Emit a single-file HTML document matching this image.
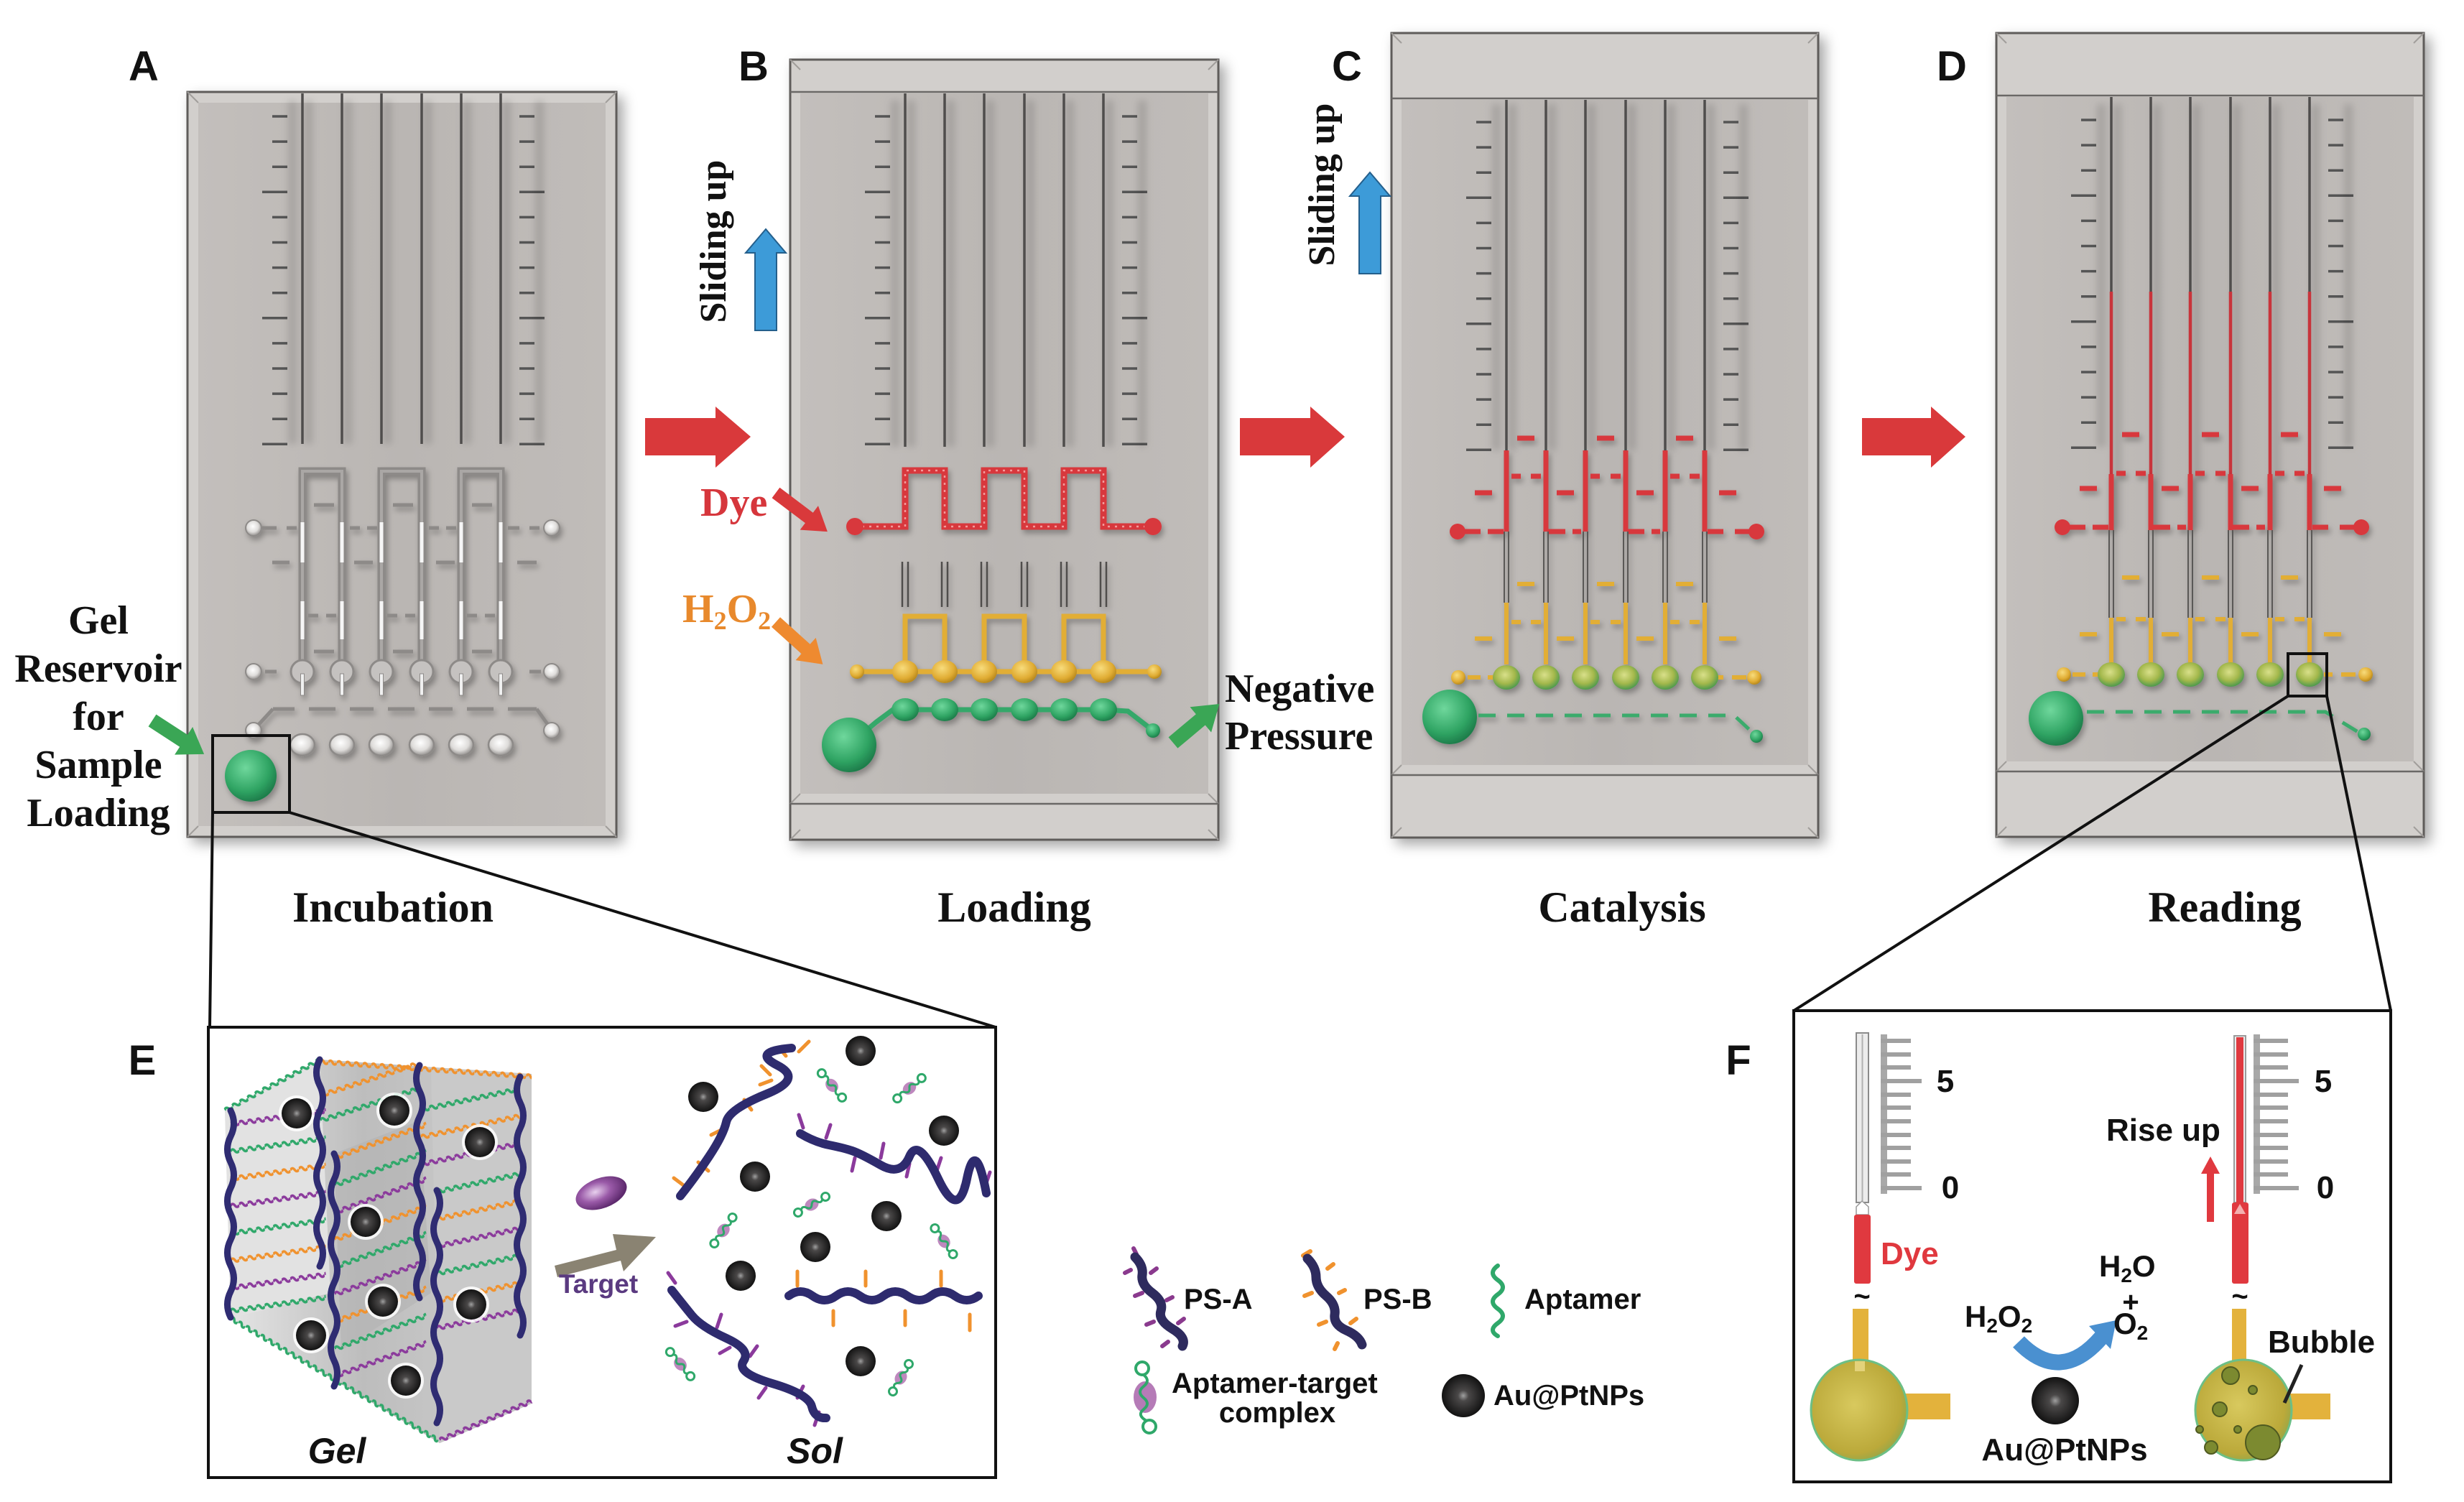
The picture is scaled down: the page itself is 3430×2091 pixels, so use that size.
<!DOCTYPE html>
<html><head><meta charset="utf-8"><style>html,body{margin:0;padding:0;background:#fff;}svg{display:block}</style></head><body>
<svg width="3430" height="2091" viewBox="0 0 3430 2091" xmlns="http://www.w3.org/2000/svg" xmlns:xlink="http://www.w3.org/1999/xlink">
<defs>
<filter id="sh" x="-10%" y="-10%" width="130%" height="130%"><feDropShadow dx="8" dy="8" stdDeviation="9" flood-color="#000" flood-opacity="0.35"/></filter>
<filter id="sh2" x="-10%" y="-10%" width="130%" height="130%"><feDropShadow dx="3" dy="5" stdDeviation="4" flood-color="#000" flood-opacity="0.3"/></filter>
<filter id="bl" x="-20%" y="-5%" width="140%" height="110%"><feGaussianBlur stdDeviation="5"/></filter>
<linearGradient id="chipG" x1="0" y1="0" x2="1" y2="0"><stop offset="0" stop-color="#c3bfbc"/><stop offset="0.5" stop-color="#bab6b3"/><stop offset="1" stop-color="#c0bcb9"/></linearGradient>
<radialGradient id="np" cx="0.5" cy="0.5" r="0.5"><stop offset="0" stop-color="#a0a0a0"/><stop offset="0.25" stop-color="#4a4848"/><stop offset="1" stop-color="#121212"/></radialGradient>
<radialGradient id="grn" cx="0.4" cy="0.35" r="0.65"><stop offset="0" stop-color="#6fd79c"/><stop offset="0.7" stop-color="#2fa463"/><stop offset="1" stop-color="#1f7f4c"/></radialGradient>
<radialGradient id="yel" cx="0.4" cy="0.35" r="0.65"><stop offset="0" stop-color="#f8dc7c"/><stop offset="0.7" stop-color="#e0ac33"/><stop offset="1" stop-color="#b98a1f"/></radialGradient>
<radialGradient id="yg" cx="0.45" cy="0.4" r="0.6"><stop offset="0" stop-color="#d9e08a"/><stop offset="0.6" stop-color="#a4b84c"/><stop offset="1" stop-color="#4f9a4e"/></radialGradient>
<radialGradient id="wht" cx="0.45" cy="0.4" r="0.6"><stop offset="0" stop-color="#ffffff"/><stop offset="0.6" stop-color="#dedcda"/><stop offset="1" stop-color="#8f8c8a"/></radialGradient>
<radialGradient id="olive" cx="0.45" cy="0.45" r="0.6"><stop offset="0" stop-color="#d8c95e"/><stop offset="0.8" stop-color="#bba93a"/><stop offset="1" stop-color="#8fa64a"/></radialGradient>
<radialGradient id="tg" cx="0.4" cy="0.4" r="0.6"><stop offset="0" stop-color="#e8d0ee"/><stop offset="0.5" stop-color="#9a5aa8"/><stop offset="1" stop-color="#5e2a6e"/></radialGradient>
<linearGradient id="cube" x1="0" y1="0" x2="1" y2="0"><stop offset="0" stop-color="#e6e6e6"/><stop offset="0.45" stop-color="#bdbdbd"/><stop offset="1" stop-color="#cfcfcf"/></linearGradient>
<pattern id="wvO" width="12" height="12" patternUnits="userSpaceOnUse"><path d="M0 6 Q3 1 6 6 T12 6" fill="none" stroke="#f0922e" stroke-width="3.6"/></pattern>
<pattern id="wvG" width="12" height="12" patternUnits="userSpaceOnUse"><path d="M0 6 Q3 1 6 6 T12 6" fill="none" stroke="#2fa86a" stroke-width="3.6"/></pattern>
<pattern id="wvP" width="12" height="12" patternUnits="userSpaceOnUse"><path d="M0 6 Q3 1 6 6 T12 6" fill="none" stroke="#8b3a9c" stroke-width="3.6"/></pattern>
<g id="rul" stroke="#555" stroke-width="3.5">
<path d="M118 0H139M118 35.1H139M118 70.2H139M104 105.3H139M118 140.4H139M118 175.5H139M118 210.6H139M118 245.7H139M104 280.8H139M118 315.9H139M118 351H139M118 386.1H139M118 421.2H139M104 456.3H139"/>
<path d="M462 0H483M462 35.1H483M462 70.2H483M462 105.3H497M462 140.4H483M462 175.5H483M462 210.6H483M462 245.7H483M462 280.8H497M462 315.9H483M462 351H483M462 386.1H483M462 421.2H483M462 456.3H497"/>
</g>
<g id="gnp"><circle r="25" fill="#fff" opacity="0.85"/><circle r="21" fill="url(#np)"/></g>
<g id="cx"><ellipse rx="10" ry="8" fill="#a860a8" opacity="0.75"/><path d="M-17 0 q4 -6 8.5 0 t8.5 0 t8.5 0 t8.5 0" stroke="#2fa86a" stroke-width="3" fill="none"/><circle cx="-22" r="5.5" stroke="#2fa86a" stroke-width="3" fill="none"/><circle cx="22" r="5.5" stroke="#2fa86a" stroke-width="3" fill="none"/></g>
</defs>

<!-- ===== Panel A ===== -->
<rect x="261" y="128" width="597" height="1037" fill="#d2cfcc" stroke="#5e5c5a" stroke-width="3" filter="url(#sh)"/>
<rect x="276" y="143" width="567" height="1007" fill="url(#chipG)"/>
<path d="M261 128L276 143M858 128L843 143M261 1165L276 1150M858 1165L843 1150" stroke="#a19e9b" stroke-width="2"/>
<use href="#rul" xlink:href="#rul" transform="translate(261,162)"/>
<g transform="translate(261,0)">
<path d="M168 140V618M223 140V618M278 140V618M334 140V618M389 140V618M444 140V618M146 140V618M490 140V618" stroke="#000" stroke-opacity="0.13" stroke-width="12" filter="url(#bl)"/>
<path d="M160 130V618M215 130V618M270 130V618M326 130V618M381 130V618M436 130V618" stroke="#4f4d4c" stroke-width="3.5"/>
<g filter="url(#sh2)">
<path d="M160 930V656H215V930M270 930V656H326V930M381 930V656H436V930" stroke="#8d8a88" stroke-width="11" fill="none"/>
<path d="M160 930V656H215V930M270 930V656H326V930M381 930V656H436V930" stroke="#aaa7a5" stroke-width="4" fill="none"/>
<g fill="#f6f6f6"><rect x="157.5" y="727" width="5" height="56"/><rect x="212.5" y="727" width="5" height="56"/><rect x="267.5" y="727" width="5" height="56"/><rect x="323.5" y="727" width="5" height="56"/><rect x="378.5" y="727" width="5" height="56"/><rect x="433.5" y="727" width="5" height="56"/>
<rect x="157.5" y="837" width="5" height="53"/><rect x="212.5" y="837" width="5" height="53"/><rect x="267.5" y="837" width="5" height="53"/><rect x="323.5" y="837" width="5" height="53"/><rect x="378.5" y="837" width="5" height="53"/><rect x="433.5" y="837" width="5" height="53"/></g>
<path d="M176 703H204M286 703H314M396 703H424M104 735H124M138 735H152M226 735H240M250 735H264M336 735H350M360 735H374M446 735H462M476 735H490M118 783H142M232 783H258M346 783H372M459 783H486M168 857H182M193 857H207M278 857H292M303 857H317M389 857H403M414 857H428M176 907H204M286 907H314M396 907H424M108 935H124M476 935H492M119 987H149M169 987H206M226 987H259M279 987H316M336 987H369M389 987H426M446 987H486M119 987L96 1012M486 987L504 1012" stroke="#8d8a88" stroke-width="5"/>
<g fill="url(#wht)" stroke="#8d8a88" stroke-width="2"><circle cx="92" cy="735" r="11"/><circle cx="507" cy="735" r="11"/><circle cx="92" cy="935" r="11"/><circle cx="507" cy="935" r="11"/><circle cx="92" cy="1017" r="11"/><circle cx="507" cy="1017" r="11"/></g>
<g fill="#c5c2c0" stroke="#8d8a88" stroke-width="3"><circle cx="160" cy="935" r="16"/><circle cx="215" cy="935" r="16"/><circle cx="270" cy="935" r="16"/><circle cx="326" cy="935" r="16"/><circle cx="381" cy="935" r="16"/><circle cx="436" cy="935" r="16"/></g>
<g fill="#f0f0f0" stroke="#8d8a88" stroke-width="1"><rect x="157.5" y="938" width="5" height="30"/><rect x="212.5" y="938" width="5" height="30"/><rect x="267.5" y="938" width="5" height="30"/><rect x="323.5" y="938" width="5" height="30"/><rect x="378.5" y="938" width="5" height="30"/><rect x="433.5" y="938" width="5" height="30"/></g>
<g fill="url(#wht)" stroke="#8d8a88" stroke-width="2.5"><ellipse cx="160" cy="1037" rx="17" ry="15"/><ellipse cx="215" cy="1037" rx="17" ry="15"/><ellipse cx="270" cy="1037" rx="17" ry="15"/><ellipse cx="326" cy="1037" rx="17" ry="15"/><ellipse cx="381" cy="1037" rx="17" ry="15"/><ellipse cx="436" cy="1037" rx="17" ry="15"/></g>
<circle cx="88" cy="1080" r="36" fill="url(#grn)"/>
</g>
<rect x="35" y="1024" width="107" height="107" fill="none" stroke="#111" stroke-width="4"/>
</g>

<!-- ===== Panel B ===== -->
<rect x="1100" y="83" width="596" height="1086" fill="#d2cfcc" stroke="#5e5c5a" stroke-width="3" filter="url(#sh)"/>
<rect x="1114" y="130" width="568" height="975" fill="url(#chipG)"/>
<path d="M1100 83L1114 97M1696 83L1682 97M1100 1169L1114 1155M1696 1169L1682 1155M1100 1119L1114 1105M1696 1119L1682 1105" stroke="#a19e9b" stroke-width="2"/>
<path d="M1100 128H1696M1100 1119H1696" stroke="#6a6866" stroke-width="2.5"/>
<use href="#rul" xlink:href="#rul" transform="translate(1100,162)"/>
<g transform="translate(1100,0)">
<path d="M168 140V622M223 140V622M278 140V622M334 140V622M389 140V622M444 140V622M146 140V622M490 140V622" stroke="#000" stroke-opacity="0.13" stroke-width="12" filter="url(#bl)"/>
<path d="M160 130V622M215 130V622M270 130V622M326 130V622M381 130V622M436 130V622" stroke="#4f4d4c" stroke-width="3.5"/>
<g filter="url(#sh2)">
<path d="M90 733H160V655H215V733H270V655H326V733H381V655H436V733H505" stroke="#d8373d" stroke-width="9" fill="none"/>
<path d="M90 733H160V655H215V733H270V655H326V733H381V655H436V733H505" stroke="#f29a9a" stroke-width="2.5" stroke-dasharray="3 7" fill="none"/>
<circle cx="90" cy="733" r="12" fill="#d8373d"/><circle cx="505" cy="733" r="12" fill="#d8373d"/>
<path d="M156 782V845M164 782V845M211 782V845M219 782V845M266 782V845M274 782V845M322 782V845M330 782V845M377 782V845M385 782V845M432 782V845M440 782V845" stroke="#4f4d4c" stroke-width="2.5"/>
<path d="M160 935V858H215V935M270 935V858H326V935M381 935V858H436V935M93 935H507" stroke="#e2ae36" stroke-width="7" fill="none"/>
<g fill="url(#yel)"><ellipse cx="160" cy="935" rx="18" ry="16"/><ellipse cx="215" cy="935" rx="18" ry="16"/><ellipse cx="270" cy="935" rx="18" ry="16"/><ellipse cx="326" cy="935" rx="18" ry="16"/><ellipse cx="381" cy="935" rx="18" ry="16"/><ellipse cx="436" cy="935" rx="18" ry="16"/><circle cx="93" cy="935" r="10"/><circle cx="507" cy="935" r="10"/></g>
<path d="M82 1037L120 1005L143 988H436L470 990L505 1017" stroke="#34a86a" stroke-width="7" fill="none"/>
<g fill="url(#grn)"><ellipse cx="160" cy="988" rx="19" ry="16"/><ellipse cx="215" cy="988" rx="19" ry="16"/><ellipse cx="270" cy="988" rx="19" ry="16"/><ellipse cx="326" cy="988" rx="19" ry="16"/><ellipse cx="381" cy="988" rx="19" ry="16"/><ellipse cx="436" cy="988" rx="19" ry="16"/><circle cx="505" cy="1017" r="10"/><circle cx="82" cy="1037" r="38"/></g>
</g>
</g>

<!-- ===== Panel C ===== -->
<rect x="1937" y="46" width="594" height="1120" fill="#d2cfcc" stroke="#5e5c5a" stroke-width="3" filter="url(#sh)"/>
<rect x="1951" y="139" width="566" height="926" fill="url(#chipG)"/>
<path d="M1937 46L1951 60M2531 46L2517 60M1937 1166L1951 1152M2531 1166L2517 1152M1937 1079L1951 1065M2531 1079L2517 1065" stroke="#a19e9b" stroke-width="2"/>
<path d="M1937 137H2531M1937 1079H2531" stroke="#6a6866" stroke-width="2.5"/>
<use href="#rul" xlink:href="#rul" transform="translate(1937,170)"/>
<g transform="translate(1937,0)">
<path d="M168 145V627M223 145V627M278 145V627M334 145V627M389 145V627M444 145V627M146 145V627M490 145V627" stroke="#000" stroke-opacity="0.13" stroke-width="12" filter="url(#bl)"/>
<path d="M160 139V627M215 139V627M270 139V627M326 139V627M381 139V627M436 139V627" stroke="#4f4d4c" stroke-width="3.5"/>
<g filter="url(#sh2)">
<path d="M160 627V740M215 627V740M270 627V740M326 627V740M381 627V740M436 627V740" stroke="#d8373d" stroke-width="7"/>
<path d="M175 610H199M286 610H310M396 610H420M167 663H180M194 663H208M277 663H290M305 663H319M388 663H401M415 663H429M116 686H140M230 686H254M341 686H365M456 686H480M100 740H124M134 740H156M218 740H242M252 740H264M328 740H352M362 740H374M440 740H462M478 740H500" stroke="#d8373d" stroke-width="7"/>
<circle cx="92" cy="740" r="11" fill="#d8373d"/><circle cx="508" cy="740" r="11" fill="#d8373d"/>
<path d="M157 740V839M163 740V839M212 740V839M218 740V839M267 740V839M273 740V839M323 740V839M329 740V839M378 740V839M384 740V839M433 740V839M439 740V839" stroke="#5a5856" stroke-width="2"/>
<path d="M160 839V925M215 839V925M270 839V925M326 839V925M381 839V925M436 839V925" stroke="#e2ae36" stroke-width="6"/>
<path d="M175 813H199M286 813H310M396 813H420M167 866H180M194 866H208M277 866H290M305 866H319M388 866H401M415 866H429M116 889H140M230 889H254M341 889H365M456 889H480M106 943H124M134 943H146M450 943H462M474 943H494" stroke="#e2ae36" stroke-width="6"/>
<circle cx="93" cy="943" r="10" fill="url(#yel)"/><circle cx="505" cy="943" r="10" fill="url(#yel)"/>
<g fill="url(#yg)"><ellipse cx="160" cy="943" rx="19" ry="17"/><ellipse cx="215" cy="943" rx="19" ry="17"/><ellipse cx="270" cy="943" rx="19" ry="17"/><ellipse cx="326" cy="943" rx="19" ry="17"/><ellipse cx="381" cy="943" rx="19" ry="17"/><ellipse cx="436" cy="943" rx="19" ry="17"/></g>
<path d="M121 996H477L505 1022" stroke="#3aab6c" stroke-width="5" stroke-dasharray="24 16" fill="none"/>
<circle cx="508" cy="1025" r="9" fill="url(#grn)"/>
<circle cx="81" cy="998" r="38" fill="url(#grn)"/>
</g>
</g>

<!-- ===== Panel D ===== -->
<rect x="2779" y="46" width="595" height="1119" fill="#d2cfcc" stroke="#5e5c5a" stroke-width="3" filter="url(#sh)"/>
<rect x="2793" y="135" width="567" height="925" fill="url(#chipG)"/>
<path d="M2779 46L2793 60M3374 46L3360 60M2779 1165L2793 1151M3374 1165L3360 1151M2779 1074L2793 1060M3374 1074L3360 1060" stroke="#a19e9b" stroke-width="2"/>
<path d="M2779 133H3374M2779 1074H3374" stroke="#6a6866" stroke-width="2.5"/>
<use href="#rul" xlink:href="#rul" transform="translate(2779,167)"/>
<g transform="translate(2779,0)">
<path d="M168 145V738M223 145V738M278 145V738M334 145V738M389 145V738M444 145V738M146 145V622M490 145V622" stroke="#000" stroke-opacity="0.13" stroke-width="12" filter="url(#bl)"/>
<path d="M160 135V406M215 135V406M270 135V406M326 135V406M381 135V406M436 135V406" stroke="#4f4d4c" stroke-width="3.5"/>
<path d="M160 406V738M215 406V738M270 406V738M326 406V738M381 406V738M436 406V738" stroke="#c8343b" stroke-width="4.5"/>
<g filter="url(#sh2)">
<path d="M160 660V738M215 660V738M270 660V738M326 660V738M381 660V738M436 660V738" stroke="#d8373d" stroke-width="7"/>
<path d="M175 605H199M286 605H310M396 605H420M167 659H180M194 659H208M277 659H290M305 659H319M388 659H401M415 659H429M116 680H140M230 680H254M341 680H365M456 680H480M100 734H124M134 734H156M218 734H242M252 734H264M328 734H352M362 734H374M440 734H462M478 734H500" stroke="#d8373d" stroke-width="7"/>
<circle cx="92" cy="734" r="11" fill="#d8373d"/><circle cx="508" cy="734" r="11" fill="#d8373d"/>
<path d="M157 738V860M163 738V860M212 738V860M218 738V860M267 738V860M273 738V860M323 738V860M329 738V860M378 738V860M384 738V860M433 738V860M439 738V860" stroke="#5a5856" stroke-width="2"/>
<path d="M160 860V925M215 860V925M270 860V925M326 860V925M381 860V925M436 860V925" stroke="#e2ae36" stroke-width="6"/>
<path d="M175 804H199M286 804H310M396 804H420M167 862H180M194 862H208M277 862H290M305 862H319M388 862H401M415 862H429M116 883H140M230 883H254M341 883H365M456 883H480M106 939H124M134 939H146M456 939H468M480 939H500" stroke="#e2ae36" stroke-width="6"/>
<circle cx="94" cy="939" r="10" fill="url(#yel)"/><circle cx="514" cy="939" r="10" fill="url(#yel)"/>
<g fill="url(#yg)"><ellipse cx="160" cy="939" rx="19" ry="17"/><ellipse cx="215" cy="939" rx="19" ry="17"/><ellipse cx="270" cy="939" rx="19" ry="17"/><ellipse cx="326" cy="939" rx="19" ry="17"/><ellipse cx="381" cy="939" rx="19" ry="17"/><ellipse cx="436" cy="939" rx="19" ry="17"/></g>
<path d="M126 991H458L505 1020" stroke="#3aab6c" stroke-width="5" stroke-dasharray="24 16" fill="none"/>
<circle cx="512" cy="1022" r="9" fill="url(#grn)"/>
<circle cx="83" cy="1000" r="38" fill="url(#grn)"/>
</g>
<rect x="406" y="910" width="54" height="59" fill="none" stroke="#111" stroke-width="4"/>
</g>

<!-- connectors -->
<path d="M296 1131L292 1430M403 1131L1386 1430M3185 969L2497 1407M3239 969L3328 1407" stroke="#111" stroke-width="4" fill="none"/>

<!-- red process arrows -->
<g fill="#d9393b">
<polygon points="898,582 996,582 996,566 1045,608 996,651 996,634 898,634"/>
<polygon points="1726,582 1824,582 1824,566 1872,608 1824,651 1824,634 1726,634"/>
<polygon points="2592,582 2688,582 2688,566 2736,608 2688,651 2688,634 2592,634"/>
</g>
<!-- blue arrows -->
<polygon points="1066,319 1094,352 1081,352 1081,460 1051,460 1051,352 1038,352" fill="#3d9bd8" stroke="#245f8c" stroke-width="2"/>
<polygon points="1907,240 1935,273 1922,273 1922,381 1892,381 1892,273 1879,273" fill="#3d9bd8" stroke="#245f8c" stroke-width="2"/>
<!-- green arrows -->
<polygon points="0,-10 52,-10 52,-23 86,0 52,23 52,10 0,10" fill="#3aa655" transform="translate(212,1003) rotate(33)"/>
<polygon points="0,-10 50,-10 50,-23 84,0 50,23 50,10 0,10" fill="#3aa655" transform="translate(1633,1034) rotate(-40)"/>
<!-- dye & h2o2 arrows -->
<polygon points="0,-9 58,-9 58,-21 90,0 58,21 58,9 0,9" fill="#d9393b" transform="translate(1080,686) rotate(37)"/>
<polygon points="0,-9 56,-9 56,-21 88,0 56,21 56,9 0,9" fill="#ee8a30" transform="translate(1080,866) rotate(42)"/>

<!-- top texts -->
<g font-family="'Liberation Sans', Arial, sans-serif" font-weight="bold" font-size="58" text-anchor="middle" fill="#111">
<text x="200" y="112">A</text><text x="1049" y="112">B</text><text x="1875" y="112">C</text><text x="2717" y="112">D</text>
<text x="198" y="1496">E</text><text x="2420" y="1496">F</text>
</g>
<g font-family="'Liberation Serif', 'Times New Roman', serif" font-weight="bold" fill="#111">
<g font-size="56" text-anchor="middle">
<text x="137" y="882">Gel</text><text x="137" y="949">Reservoir</text><text x="137" y="1016">for</text><text x="137" y="1083">Sample</text><text x="137" y="1150">Loading</text>
</g>
<g font-size="60" text-anchor="middle">
<text x="547" y="1283">Incubation</text><text x="1412" y="1283">Loading</text><text x="2258" y="1283">Catalysis</text><text x="3097" y="1283">Reading</text>
</g>
<text x="975" y="718" font-size="56" fill="#d6363c">Dye</text>
<text x="950" y="866" font-size="56" fill="#e8892c">H<tspan font-size="36" dy="10">2</tspan><tspan dy="-10">O</tspan><tspan font-size="36" dy="10">2</tspan></text>
<text x="1705" y="977" font-size="56">Negative</text>
<text x="1705" y="1043" font-size="56">Pressure</text>
<text font-size="52" text-anchor="middle" transform="translate(1010,336) rotate(-90)">Sliding up</text>
<text font-size="52" text-anchor="middle" transform="translate(1857,257) rotate(-90)">Sliding up</text>
</g>

<!-- ===== Panel E ===== -->
<rect x="290" y="1430" width="1096" height="627" fill="none" stroke="#111" stroke-width="4"/>
<polygon points="313,1546 445,1475 740,1495 740,1954 612,2009 321,1835" fill="url(#cube)"/>
<polygon points="313,1546 445,1475 460,1800 321,1835" fill="#e2e2e2"/>
<polygon points="600,1490 740,1495 740,1954 612,2009" fill="#c9c9c9"/>
<polygon points="465,1606 584,1560 600,1800 475,1880" fill="#b3b3b3" opacity="0.6"/>
<g>
<rect width="134" height="12" fill="url(#wvP)" transform="translate(321,1565) rotate(-8) translate(0,-6)"/>
<rect width="134" height="12" fill="url(#wvG)" transform="translate(321,1603) rotate(-8) translate(0,-6)"/>
<rect width="134" height="12" fill="url(#wvO)" transform="translate(321,1641) rotate(-8) translate(0,-6)"/>
<rect width="134" height="12" fill="url(#wvP)" transform="translate(321,1679) rotate(-8) translate(0,-6)"/>
<rect width="134" height="12" fill="url(#wvG)" transform="translate(321,1717) rotate(-8) translate(0,-6)"/>
<rect width="134" height="12" fill="url(#wvO)" transform="translate(321,1755) rotate(-8) translate(0,-6)"/>
<rect width="134" height="12" fill="url(#wvP)" transform="translate(321,1793) rotate(-8) translate(0,-6)"/>
<rect width="134" height="12" fill="url(#wvG)" transform="translate(321,1825) rotate(-8) translate(0,-6)"/>
<rect width="140" height="12" fill="url(#wvO)" transform="translate(446,1525) rotate(-18) translate(0,-6)"/>
<rect width="140" height="12" fill="url(#wvG)" transform="translate(446,1560) rotate(-18) translate(0,-6)"/>
<rect width="136" height="12" fill="url(#wvO)" transform="translate(466,1612) rotate(-20) translate(0,-6)"/>
<rect width="136" height="12" fill="url(#wvG)" transform="translate(466,1650) rotate(-20) translate(0,-6)"/>
<rect width="136" height="12" fill="url(#wvP)" transform="translate(466,1688) rotate(-20) translate(0,-6)"/>
<rect width="136" height="12" fill="url(#wvO)" transform="translate(466,1726) rotate(-20) translate(0,-6)"/>
<rect width="136" height="12" fill="url(#wvG)" transform="translate(466,1764) rotate(-20) translate(0,-6)"/>
<rect width="136" height="12" fill="url(#wvP)" transform="translate(466,1802) rotate(-20) translate(0,-6)"/>
<rect width="136" height="12" fill="url(#wvO)" transform="translate(466,1840) rotate(-20) translate(0,-6)"/>
<rect width="136" height="12" fill="url(#wvG)" transform="translate(466,1878) rotate(-20) translate(0,-6)"/>
<rect width="136" height="12" fill="url(#wvP)" transform="translate(466,1916) rotate(-20) translate(0,-6)"/>
<rect width="140" height="12" fill="url(#wvG)" transform="translate(586,1545) rotate(-12) translate(0,-6)"/>
<rect width="140" height="12" fill="url(#wvO)" transform="translate(586,1583) rotate(-12) translate(0,-6)"/>
<rect width="140" height="12" fill="url(#wvP)" transform="translate(586,1621) rotate(-12) translate(0,-6)"/>
<rect width="118" height="12" fill="url(#wvG)" transform="translate(608,1659) rotate(-12) translate(0,-6)"/>
<rect width="118" height="12" fill="url(#wvO)" transform="translate(608,1697) rotate(-12) translate(0,-6)"/>
<rect width="118" height="12" fill="url(#wvP)" transform="translate(608,1735) rotate(-12) translate(0,-6)"/>
<rect width="118" height="12" fill="url(#wvG)" transform="translate(608,1773) rotate(-12) translate(0,-6)"/>
<rect width="118" height="12" fill="url(#wvO)" transform="translate(608,1811) rotate(-12) translate(0,-6)"/>
<rect width="118" height="12" fill="url(#wvP)" transform="translate(608,1849) rotate(-12) translate(0,-6)"/>
<rect width="296" height="12" fill="url(#wvO)" transform="translate(445,1478) rotate(4) translate(0,-6)"/>
<rect width="150" height="12" fill="url(#wvG)" transform="translate(313,1546) rotate(-28) translate(0,-6)"/>
<rect width="336" height="12" fill="url(#wvG)" transform="translate(321,1835) rotate(30.5) translate(0,-6)"/>
<rect width="139" height="12" fill="url(#wvP)" transform="translate(612,2005) rotate(-23) translate(0,-6)"/>
</g>
<g stroke="#2f2c72" stroke-width="9" fill="none" stroke-linecap="round">
<path d="M321 1546q9 18 0 36t0 36t0 36t0 36t0 36t0 36t0 36t0 36"/>
<path d="M445 1475q-9 18 0 36t0 36t0 36t0 36t0 36t0 36t0 36t0 36"/>
<path d="M465 1606q9 18 0 36t0 36t0 36t0 36t0 36t0 36t0 36t0 36t0 36"/>
<path d="M584 1483q-9 18 0 36t0 36t0 36t0 36t0 36t0 36t0 36t0 36t0 36"/>
<path d="M608 1657q9 18 0 36t0 36t0 36t0 36t0 36t0 36t0 36t0 36t0 36"/>
<path d="M724 1499q-9 18 0 36t0 36t0 36t0 36t0 36t0 36t0 36t0 36t0 36t0 36"/>
</g>
<use href="#gnp" xlink:href="#gnp" transform="translate(413,1550)"/>
<use href="#gnp" xlink:href="#gnp" transform="translate(549,1546)"/>
<use href="#gnp" xlink:href="#gnp" transform="translate(668,1590)"/>
<use href="#gnp" xlink:href="#gnp" transform="translate(509,1701)"/>
<use href="#gnp" xlink:href="#gnp" transform="translate(533,1812)"/>
<use href="#gnp" xlink:href="#gnp" transform="translate(656,1816)"/>
<use href="#gnp" xlink:href="#gnp" transform="translate(433,1859)"/>
<use href="#gnp" xlink:href="#gnp" transform="translate(565,1922)"/>
<!-- target & arrow -->
<ellipse cx="837" cy="1661" rx="37" ry="21" transform="rotate(-20 837 1661)" fill="url(#tg)"/>
<polygon points="772,1762 858,1740 853,1718 913,1722 868,1770 864,1755 776,1778" fill="#8a8372"/>
<text x="833" y="1800" font-family="'Liberation Sans', Arial, sans-serif" font-weight="bold" font-size="37" text-anchor="middle" fill="#5a3a80">Target</text>
<!-- sol chains -->
<g stroke="#f0922e" stroke-width="5" stroke-linecap="round" fill="none">
<path d="M938 1640l16 12M972 1618l14 12M990 1580l16 -8M1046 1545l-10 -14M1058 1510l16 -6M1072 1496l-12 -12M1094 1470l-10 -12M1112 1464l14 -14"/>
<path d="M1110 1790v-20M1160 1825v20M1205 1790v-20M1260 1825v20M1310 1790v-20M1350 1830v22"/>
</g>
<g stroke="#8b3a9c" stroke-width="5" stroke-linecap="round" fill="none">
<path d="M1118 1570l-6 -18M1150 1584l6 -18M1190 1612l-4 18M1226 1612l4 -20M1266 1620l-4 18M1304 1630l6 -18M1340 1650l-4 18M1372 1650l6 -18"/>
<path d="M940 1786l-10 -14M956 1840l-16 6M998 1848l6 -18M1016 1876l-14 8M1044 1888l10 -14M1066 1932l-10 14M1110 1946l8 -16M1140 1966l-6 18"/>
</g>
<g stroke="#2e2b6e" stroke-width="12" fill="none" stroke-linecap="round" stroke-linejoin="round">
<path d="M947 1665Q967 1640 987 1610T1011 1562T1067 1523T1082 1483T1102 1459"/>
<path d="M1114 1578Q1134 1590 1154 1594T1186 1602T1226 1622T1266 1610T1306 1641T1346 1641T1373 1661"/>
<path d="M1098 1804q16 -12 33 0t33 0t33 0t33 0t33 0t33 0t33 0t33 0"/>
<path d="M935 1796Q950 1815 963 1831T1011 1863T1035 1895T1075 1926T1130 1958T1150 1974"/>
</g>
<use href="#gnp" xlink:href="#gnp" transform="translate(979,1527)"/>
<use href="#gnp" xlink:href="#gnp" transform="translate(1198,1463)"/>
<use href="#gnp" xlink:href="#gnp" transform="translate(1314,1574)"/>
<use href="#gnp" xlink:href="#gnp" transform="translate(1051,1638)"/>
<use href="#gnp" xlink:href="#gnp" transform="translate(1234,1693)"/>
<use href="#gnp" xlink:href="#gnp" transform="translate(1135,1736)"/>
<use href="#gnp" xlink:href="#gnp" transform="translate(1031,1776)"/>
<use href="#gnp" xlink:href="#gnp" transform="translate(1198,1895)"/>
<use href="#cx" xlink:href="#cx" transform="translate(1158,1511) rotate(50)"/>
<use href="#cx" xlink:href="#cx" transform="translate(1266,1515) rotate(-40)"/>
<use href="#cx" xlink:href="#cx" transform="translate(1130,1677) rotate(-30)"/>
<use href="#cx" xlink:href="#cx" transform="translate(1007,1713) rotate(-55)"/>
<use href="#cx" xlink:href="#cx" transform="translate(1314,1728) rotate(55)"/>
<use href="#cx" xlink:href="#cx" transform="translate(947,1899) rotate(50)"/>
<use href="#cx" xlink:href="#cx" transform="translate(1254,1918) rotate(-60)"/>
<g font-family="'Liberation Sans', Arial, sans-serif" font-weight="bold" font-style="italic" font-size="50" text-anchor="middle" fill="#111">
<text x="469" y="2037">Gel</text><text x="1134" y="2037">Sol</text>
</g>

<!-- ===== Legend ===== -->
<g stroke-linecap="round" fill="none">
<path d="M1574 1768l-8 4M1602 1772l8 -6M1590 1800l-10 4M1624 1810l8 -4M1606 1840l-10 4M1640 1842l8 -6M1626 1868l-8 6M1582 1746l-4 -8" stroke="#8a3a8e" stroke-width="6"/>
<path d="M1580 1750Q1592 1762 1590 1775T1604 1800T1616 1825T1632 1850T1646 1874" stroke="#2e2b5e" stroke-width="13"/>
<path d="M1814 1748l10 -6M1848 1766l8 -6M1826 1800l-10 4M1864 1800l8 -4M1846 1840l-10 4M1880 1842l8 -6M1862 1870l-4 8" stroke="#f0922e" stroke-width="6"/>
<path d="M1820 1752Q1832 1764 1832 1778T1846 1804T1858 1830T1874 1852T1896 1872" stroke="#2e2b5e" stroke-width="13"/>
<path d="M2085 1762q-14 10 0 20t0 20t0 20t0 20t0 18" stroke="#2fa86a" stroke-width="6"/>
</g>
<ellipse cx="1594" cy="1945" rx="16" ry="22" fill="#a35aa5" opacity="0.8"/>
<circle cx="1590" cy="1905" r="9" fill="none" stroke="#2fa86a" stroke-width="4"/>
<circle cx="1600" cy="1986" r="9" fill="none" stroke="#2fa86a" stroke-width="4"/>
<path d="M1592 1914q10 8 0 16t0 16t0 16t4 16" fill="none" stroke="#2fa86a" stroke-width="4"/>
<circle cx="2037" cy="1943" r="30" fill="url(#np)"/>
<g font-family="'Liberation Sans', Arial, sans-serif" font-weight="bold" font-size="40" fill="#111">
<text x="1648" y="1822">PS-A</text><text x="1898" y="1822">PS-B</text><text x="2122" y="1822">Aptamer</text>
<text x="1631" y="1939">Aptamer-target</text><text x="1778" y="1980" text-anchor="middle">complex</text>
<text x="2079" y="1956">Au@PtNPs</text>
</g>

<!-- ===== Panel F ===== -->
<rect x="2497" y="1407" width="831" height="656" fill="none" stroke="#111" stroke-width="4"/>
<!-- left thermometer -->
<rect x="2584" y="1438" width="17" height="236" fill="#ececec" stroke="#8a8a8a" stroke-width="2"/>
<path d="M2592.5 1440V1672" stroke="#b0b0b0" stroke-width="2"/>
<polygon points="2584,1691 2584,1680 2592,1672 2601,1680 2601,1691" fill="#fff" stroke="#999" stroke-width="1.5"/>
<rect x="2581" y="1691" width="23" height="96" rx="3" fill="#e0393f"/>
<rect x="2579" y="1822" width="22" height="90" fill="#e3b23c"/>
<rect x="2650" y="1940" width="65" height="36" fill="#e3b23c"/>
<ellipse cx="2588" cy="1963" rx="67" ry="70" fill="url(#olive)" stroke="#6cbf86" stroke-width="3"/>
<rect x="2582" y="1895" width="14" height="14" fill="#e3d27a"/>
<rect x="2618" y="1440" width="9" height="222" fill="#a8a8a8"/>
<path d="M2618 1449H2660M2618 1468H2660M2618 1486H2660M2618 1505H2675M2618 1524H2660M2618 1542H2660M2618 1561H2660M2618 1580H2660M2618 1598H2660M2618 1617H2660M2618 1635H2660M2618 1654H2675" stroke="#a0a0a0" stroke-width="6"/>
<!-- right thermometer -->
<rect x="3110" y="1442" width="16" height="232" fill="#ececec" stroke="#9a9a9a" stroke-width="2"/>
<rect x="3113" y="1444" width="10" height="232" fill="#e0393f"/>
<rect x="3107" y="1674" width="23" height="113" rx="3" fill="#e0393f"/>
<polygon points="3110,1690 3118,1676 3126,1690" fill="#f3b0b0"/>
<rect x="3107" y="1822" width="20" height="80" fill="#e3b23c"/>
<rect x="3180" y="1940" width="64" height="36" fill="#e3b23c"/>
<ellipse cx="3123" cy="1963" rx="67" ry="70" fill="url(#olive)" stroke="#6cbf86" stroke-width="3"/>
<g fill="#7c8a30" stroke="#4f5a20" stroke-width="2"><circle cx="3105" cy="1915" r="12"/><circle cx="3090" cy="1962" r="10"/><circle cx="3150" cy="2008" r="24"/><circle cx="3078" cy="2015" r="9"/><circle cx="3136" cy="1935" r="6"/><circle cx="3062" cy="1990" r="5"/><circle cx="3115" cy="1990" r="5"/></g>
<rect x="3137" y="1440" width="9" height="222" fill="#a8a8a8"/>
<path d="M3137 1449H3185M3137 1468H3185M3137 1486H3185M3137 1505H3200M3137 1524H3185M3137 1542H3185M3137 1561H3185M3137 1580H3185M3137 1598H3185M3137 1617H3185M3137 1635H3185M3137 1654H3200" stroke="#a0a0a0" stroke-width="6"/>
<rect x="3072" y="1630" width="10" height="71" fill="#e0393f"/>
<polygon points="3064,1634 3077,1610 3090,1634" fill="#e0393f"/>
<path d="M3204 1900L3180 1953" stroke="#222" stroke-width="5"/>
<!-- reaction -->
<path d="M2810 1868Q2868 1928 2925 1862" stroke="#4a90d0" stroke-width="22" fill="none"/>
<polygon points="2908,1846 2946,1838 2938,1878" fill="#4a90d0"/>
<circle cx="2861" cy="1950" r="33" fill="url(#np)"/>
<g font-family="'Liberation Sans', Arial, sans-serif" font-weight="bold" fill="#111">
<text x="2708" y="1520" font-size="44" text-anchor="middle">5</text>
<text x="2715" y="1668" font-size="44" text-anchor="middle">0</text>
<text x="3234" y="1520" font-size="44" text-anchor="middle">5</text>
<text x="3237" y="1668" font-size="44" text-anchor="middle">0</text>
<text x="2618" y="1760" font-size="44" fill="#e0383e">Dye</text>
<text x="2592" y="1818" font-size="40" text-anchor="middle">~</text>
<text x="3118" y="1818" font-size="40" text-anchor="middle">~</text>
<text x="2932" y="1588" font-size="44">Rise up</text>
<text x="3157" y="1883" font-size="44">Bubble</text>
<text x="2735" y="1847" font-size="42">H<tspan font-size="28" dy="8">2</tspan><tspan dy="-8">O</tspan><tspan font-size="28" dy="8">2</tspan></text>
<text x="2922" y="1777" font-size="42">H<tspan font-size="28" dy="8">2</tspan><tspan dy="-8">O</tspan></text>
<text x="2966" y="1826" font-size="40" text-anchor="middle">+</text>
<text x="2942" y="1857" font-size="42">O<tspan font-size="28" dy="8">2</tspan></text>
<text x="2874" y="2033" font-size="44" text-anchor="middle">Au@PtNPs</text>
</g>
</svg>
</body></html>
